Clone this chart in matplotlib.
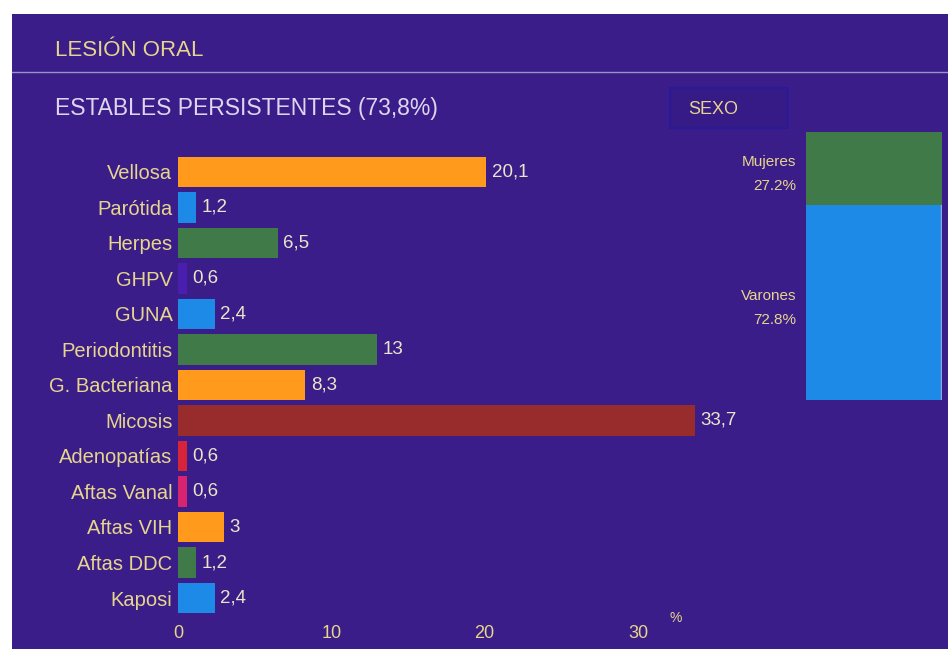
import matplotlib.pyplot as plt
from matplotlib.patches import Rectangle

plt.rcParams['font.family'] = ['Liberation Sans', 'DejaVu Sans']

# oral lesions, stable persistent group (% of cases)
lesiones = ["Vellosa", "Parótida", "Herpes", "GHPV", "GUNA", "Periodontitis",
            "G. Bacteriana", "Micosis", "Adenopatías", "Aftas Vanal", "Aftas VIH",
            "Aftas DDC", "Kaposi"]
valores = [20.1, 1.2, 6.5, 0.6, 2.4, 13, 8.3, 33.7, 0.6, 0.6, 3, 1.2, 2.4]
etiquetas = ["20,1", "1,2", "6,5", "0,6", "2,4", "13", "8,3", "33,7",
             "0,6", "0,6", "3", "1,2", "2,4"]
colores = ["#ff9a1c", "#1c8ae6", "#3f7a48", "#4a1fb0", "#1c8ae6", "#3f7a48",
           "#ff9a1c", "#982c2c", "#d8243a", "#d82470", "#ff9a1c", "#3f7a48",
           "#1c8ae6"]
xticks = [0, 10, 20, 30]

# sex split
sexo = ["Varones", "Mujeres"]
sexo_pct = [72.8, 27.2]
sexo_col = ["#1c8ae6", "#3f7a48"]

W, H = 948, 649
bg = "#3b1d8a"
amarillo = "#e6d58c"
claro = "#ece4c8"


def fr(x0, y0, x1, y1):
    # pixel box -> figure fraction [left, bottom, width, height]
    return [x0 / W, 1 - y1 / H, (x1 - x0) / W, (y1 - y0) / H]


fig = plt.figure(figsize=(W / 100, H / 100), dpi=100, facecolor="white")
fig.patches.append(Rectangle((12 / W, 0), 1, 1 - 14 / H, transform=fig.transFigure,
                             facecolor=bg, edgecolor="none", zorder=-10))
fig.add_artist(plt.Line2D([12 / W, 1], [1 - 72 / H] * 2, transform=fig.transFigure,
                          color="#9c90c8", lw=1, zorder=-5))

fig.text(55 / W, 1 - 50 / H, "LESIÓN ORAL", color=amarillo, fontsize=16,
         va="center", ha="left")
fig.text(55 / W, 1 - 108 / H, "ESTABLES PERSISTENTES (73,8%)", color="#ddd6ee",
         fontsize=16.5, va="center", ha="left")

# SEXO box
fig.patches.append(Rectangle((670 / W, 1 - 128 / H), 118 / W, 40 / H,
                             transform=fig.transFigure, facecolor="#361a86",
                             edgecolor="#2a1a9a", lw=1.5, zorder=-5))
fig.text(713 / W, 1 - 110 / H, "SEXO", color=amarillo, fontsize=13,
         va="center", ha="center")

# main bar chart
ax = fig.add_axes(fr(178, 150.7, 730, 619.3))
ax.patch.set_alpha(0)
y = list(range(len(lesiones)))
ax.barh(y, valores, height=0.85, color=colores, edgecolor="none")
for yi, v, t in zip(y, valores, etiquetas):
    ax.text(v + 0.35, yi, t, color=claro, fontsize=13.5, va="center", ha="left")
ax.set_xlim(0, 36)
ax.set_ylim(len(lesiones) - 0.4, -0.6)
ax.set_yticks(y)
ax.set_yticklabels(lesiones, color=amarillo, fontsize=14.5)
ax.set_xticks(xticks)
ax.set_xticklabels([str(t) for t in xticks], color=amarillo, fontsize=13)
ax.tick_params(length=0, pad=4)
ax.tick_params(axis="x", pad=4)
for s in ax.spines.values():
    s.set_visible(False)
fig.text(676 / W, 1 - 618 / H, "%", color=amarillo, fontsize=10,
         va="center", ha="center")

# stacked sex bar
ax2 = fig.add_axes(fr(806, 132, 942, 400))
ax2.patch.set_alpha(0)
base = 0
for nombre, p, c in zip(sexo, sexo_pct, sexo_col):
    ax2.bar(0, p, bottom=base, width=1, color=c, edgecolor="none")
    ax2.text(-0.57, base + p / 2 - 2, f"{nombre}\n{p}%", color=amarillo,
             fontsize=11, ha="right", va="center", linespacing=1.9)
    base += p
# thin light edge on the right side of the column
ax2.axvline(0.49, 0, sum(sexo_pct[:1]) / 100, color="#8fa8e0", lw=1)
ax2.set_xlim(-0.5, 0.5)
ax2.set_ylim(0, 100)
ax2.axis("off")

fig.savefig("out.png", dpi=100, facecolor="white")
